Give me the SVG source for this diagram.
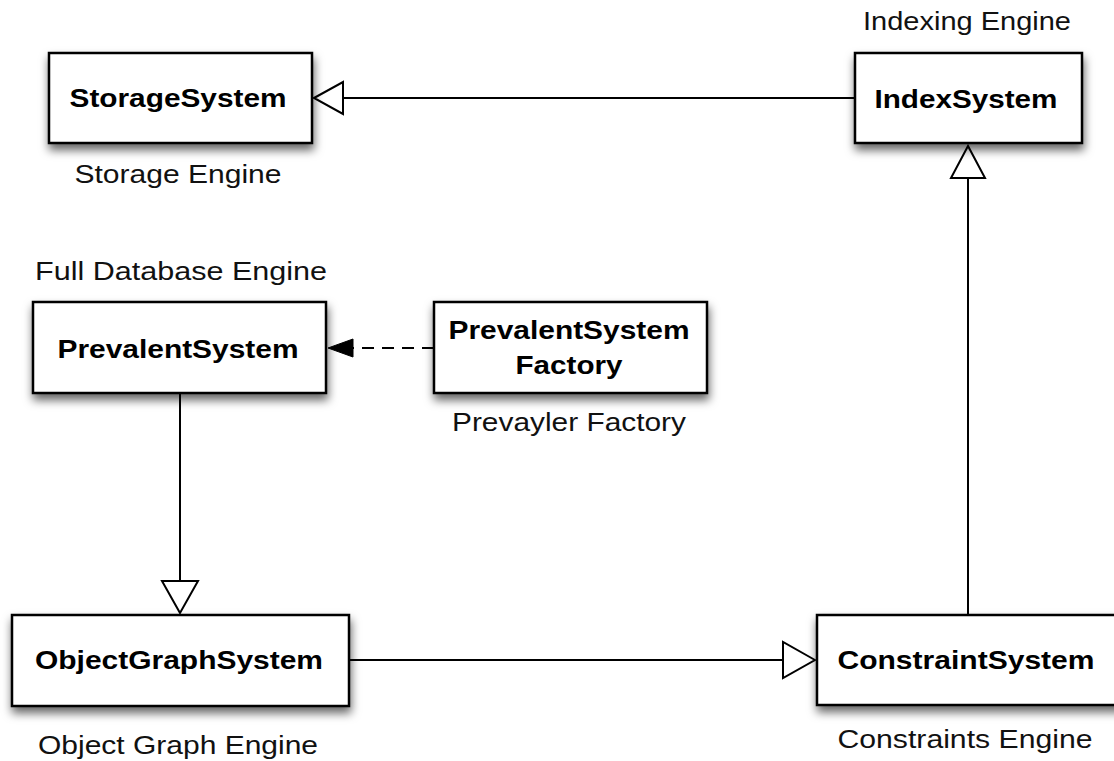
<svg xmlns="http://www.w3.org/2000/svg" width="1114" height="761" viewBox="0 0 1114 761">
<defs>
<filter id="sh" x="-20%" y="-30%" width="140%" height="170%">
<feDropShadow dx="1" dy="6" stdDeviation="5" flood-color="#000" flood-opacity="0.6"/>
</filter>
</defs>
<style>
.box{fill:#fff;stroke:#000;stroke-width:2.5}
.t{font-family:"Liberation Sans",Arial,Helvetica,sans-serif;font-weight:bold;font-size:25.5px;fill:#000;text-anchor:middle}
.l{font-family:"Liberation Sans",Arial,Helvetica,sans-serif;font-size:25.5px;fill:#111;text-anchor:middle}
.ln{stroke:#000;stroke-width:2;fill:none}
.dash{stroke:#000;stroke-width:2;fill:none;stroke-dasharray:12 8}
.hollow{fill:#fff;stroke:#000;stroke-width:2;stroke-linejoin:miter}
.solid{fill:#000;stroke:#000;stroke-width:1}
</style>
<rect width="1114" height="761" fill="#fff"/>
<g id="connectors">
<line class="ln" x1="855" y1="98" x2="343" y2="98"/>
<polygon class="hollow" points="314,98 343,82 343,114"/>
<line class="ln" x1="968" y1="615" x2="968" y2="178"/>
<polygon class="hollow" points="968,146 951,178 985,178"/>
<line class="ln" x1="180" y1="393" x2="180" y2="581"/>
<polygon class="hollow" points="180,613 162,581 198,581"/>
<line class="ln" x1="349" y1="660" x2="783" y2="660"/>
<polygon class="hollow" points="815,660 783,642 783,678"/>
<line class="dash" x1="434" y1="348" x2="352" y2="348"/>
<polygon class="solid" points="328,348 353,339 353,357"/>
</g>
<g id="storage">
<rect class="box" x="49" y="53" width="263" height="90" filter="url(#sh)"/>
<text class="t" x="178" y="107" textLength="217" lengthAdjust="spacingAndGlyphs">StorageSystem</text>
<text class="l" x="178" y="183" textLength="207" lengthAdjust="spacingAndGlyphs">Storage Engine</text>
</g>
<g id="index">
<rect class="box" x="855" y="53" width="227" height="90" filter="url(#sh)"/>
<text class="t" x="966" y="108" textLength="183" lengthAdjust="spacingAndGlyphs">IndexSystem</text>
<text class="l" x="967" y="30" textLength="208" lengthAdjust="spacingAndGlyphs">Indexing Engine</text>
</g>
<g id="prevalent">
<rect class="box" x="33" y="302" width="293" height="91" filter="url(#sh)"/>
<text class="t" x="178" y="358" textLength="241" lengthAdjust="spacingAndGlyphs">PrevalentSystem</text>
<text class="l" x="181" y="280" textLength="292" lengthAdjust="spacingAndGlyphs">Full Database Engine</text>
</g>
<g id="factory">
<rect class="box" x="434" y="302" width="273" height="91" filter="url(#sh)"/>
<text class="t" x="569" y="339" textLength="241" lengthAdjust="spacingAndGlyphs">PrevalentSystem</text>
<text class="t" x="569" y="374" textLength="107" lengthAdjust="spacingAndGlyphs">Factory</text>
<text class="l" x="569" y="431" textLength="234" lengthAdjust="spacingAndGlyphs">Prevayler Factory</text>
</g>
<g id="objectgraph">
<rect class="box" x="12" y="615" width="337" height="91" filter="url(#sh)"/>
<text class="t" x="179" y="669" textLength="288" lengthAdjust="spacingAndGlyphs">ObjectGraphSystem</text>
<text class="l" x="178" y="754" textLength="280" lengthAdjust="spacingAndGlyphs">Object Graph Engine</text>
</g>
<g id="constraint">
<rect class="box" x="817" y="615" width="310" height="90" filter="url(#sh)"/>
<text class="t" x="966" y="669" textLength="257" lengthAdjust="spacingAndGlyphs">ConstraintSystem</text>
<text class="l" x="965" y="748" textLength="255" lengthAdjust="spacingAndGlyphs">Constraints Engine</text>
</g>
</svg>
